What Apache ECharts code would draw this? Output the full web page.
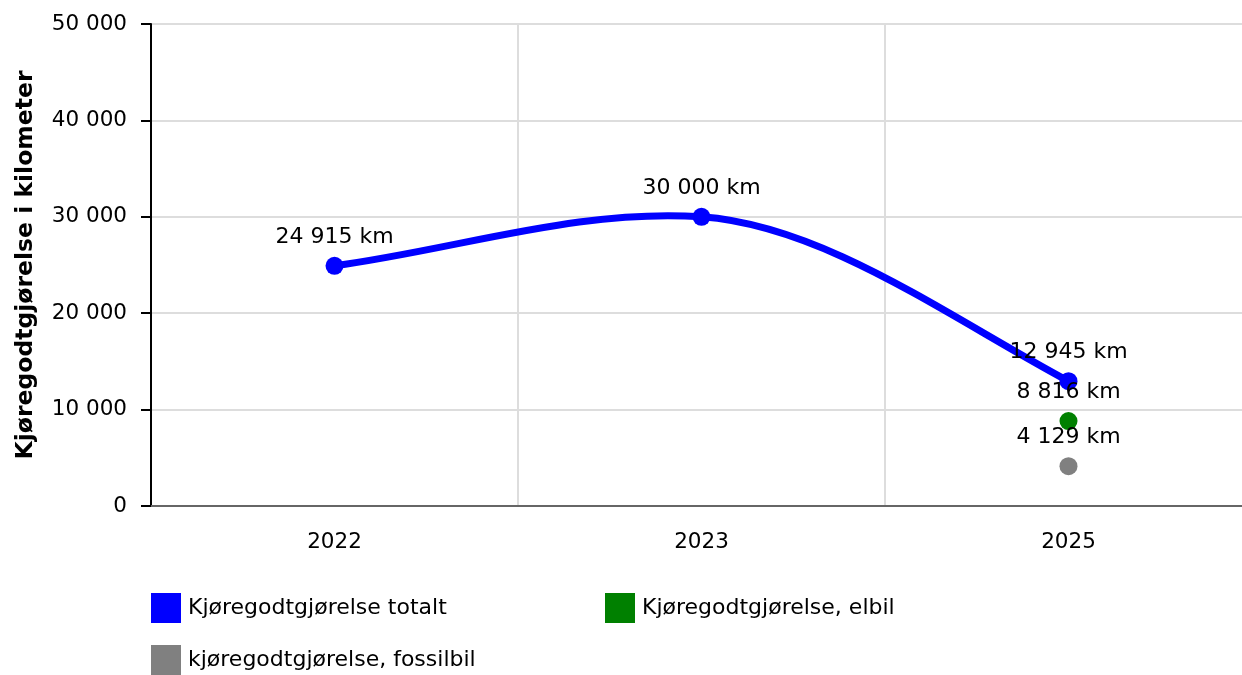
<!DOCTYPE html>
<html>
<head>
<meta charset="utf-8">
<script src="https://cdn.jsdelivr.net/npm/echarts@6/dist/echarts.min.js"></script>
<style>
  html, body { margin: 0; padding: 0; background: #fff; }
  #chart { width: 1242px; height: 675px; }
</style>
</head>
<body>
<div id="chart"></div>
<script>
const years = ['2022', '2023', '2025']
const totalt = [24915, 30000, 12945]
const elbil = [null, null, 8816]
const fossilbil = [null, null, 4129]
const seriesNames = ['Kjøregodtgjørelse totalt', 'Kjøregodtgjørelse, elbil', 'kjøregodtgjørelse, fossilbil']
const yName = 'Kjøregodtgjørelse i kilometer'

const font = 'DejaVu Sans'
const fmt = (v) => String(v).replace(/\B(?=(\d{3})+(?!\d))/g, ' ')

const chart = echarts.init(document.getElementById('chart'))

const pointLabel = {
  show: true,
  position: 'top',
  distance: 9,
  color: '#000',
  fontFamily: font,
  fontSize: 22,
  formatter: (p) => fmt(p.value) + ' km'
}

const legendBase = {
  icon: 'rect',
  itemWidth: 30,
  itemHeight: 30,
  padding: 0,
  textStyle: { color: '#000', fontFamily: font, fontSize: 22, padding: [0, 0, 0, 2] },
  selectedMode: false
}

// kardinal spline (hermite) gjennom punktene, tegnet via aksenes skala
function renderCurve(params, api) {
  if (params.dataIndex !== 0) return
  const pts = totalt.map((v, i) => api.coord([i, v]))
  const n = pts.length
  const slope = (a, b) => (b[1] - a[1]) / (b[0] - a[0])
  const m = pts.map((p, i) => {
    if (i === 0) return slope(pts[0], pts[1])
    if (i === n - 1) return 1.2 * slope(pts[n - 2], pts[n - 1])
    return 0.45 * slope(pts[i - 1], pts[i + 1])
  })
  const children = []
  for (let i = 0; i < n - 1; i++) {
    const p1 = pts[i]
    const p2 = pts[i + 1]
    const h = (p2[0] - p1[0]) / 3
    children.push({
      type: 'bezierCurve',
      shape: {
        x1: p1[0], y1: p1[1],
        cpx1: p1[0] + h, cpy1: p1[1] + m[i] * h,
        cpx2: p2[0] - h, cpy2: p2[1] - m[i + 1] * h,
        x2: p2[0], y2: p2[1]
      },
      style: { stroke: '#0000ff', lineWidth: 7, fill: null, lineCap: 'round' }
    })
  }
  return { type: 'group', children }
}

const option = {
  backgroundColor: '#fff',
  animation: false,
  grid: { left: 151, width: 1101, top: 24, bottom: 169, outerBoundsMode: 'none', containLabel: false },
  legend: [
    Object.assign({ data: [seriesNames[0]], left: 151, top: 593 }, legendBase),
    Object.assign({ data: [seriesNames[1]], left: 605, top: 593 }, legendBase),
    Object.assign({ data: [seriesNames[2]], left: 151, top: 645 }, legendBase)
  ],
  xAxis: {
    type: 'category',
    data: years,
    boundaryGap: true,
    axisLine: { lineStyle: { color: '#666', width: 2 } },
    axisTick: { alignWithLabel: true, length: 6, lineStyle: { color: '#aaa', width: 2 } },
    axisLabel: { color: '#000', fontFamily: font, fontSize: 21.5, margin: 25 },
    splitLine: { show: true, lineStyle: { color: '#ddd', width: 2 } }
  },
  yAxis: {
    type: 'value',
    min: 0,
    max: 50000,
    interval: 10000,
    name: yName,
    nameLocation: 'middle',
    nameGap: 113,
    nameTextStyle: { color: '#000', fontFamily: font, fontSize: 23.5, fontWeight: 'bold' },
    axisLine: { show: true, lineStyle: { color: '#000', width: 2 } },
    axisTick: { show: true, length: 10, lineStyle: { color: '#000', width: 2 } },
    axisLabel: { color: '#000', fontFamily: font, fontSize: 21.5, margin: 24, formatter: fmt },
    splitLine: { lineStyle: { color: '#ddd', width: 2 } }
  },
  series: [
    {
      type: 'custom',
      data: totalt.map((v, i) => [i, v]),
      renderItem: renderCurve,
      silent: true,
      z: 2
    },
    {
      name: seriesNames[0],
      type: 'scatter',
      data: totalt,
      symbolSize: 18,
      itemStyle: { color: '#0000ff', opacity: 1 },
      label: pointLabel,
      z: 3
    },
    {
      name: seriesNames[1],
      type: 'scatter',
      data: elbil,
      symbolSize: 18,
      itemStyle: { color: '#008000', opacity: 1 },
      label: pointLabel,
      z: 3
    },
    {
      name: seriesNames[2],
      type: 'scatter',
      data: fossilbil,
      symbolSize: 18,
      itemStyle: { color: '#808080', opacity: 1 },
      label: pointLabel,
      z: 3
    }
  ]
}

chart.setOption(option)

window.addEventListener('resize', () => {
  chart.resize()
})
</script>
</body>
</html>
